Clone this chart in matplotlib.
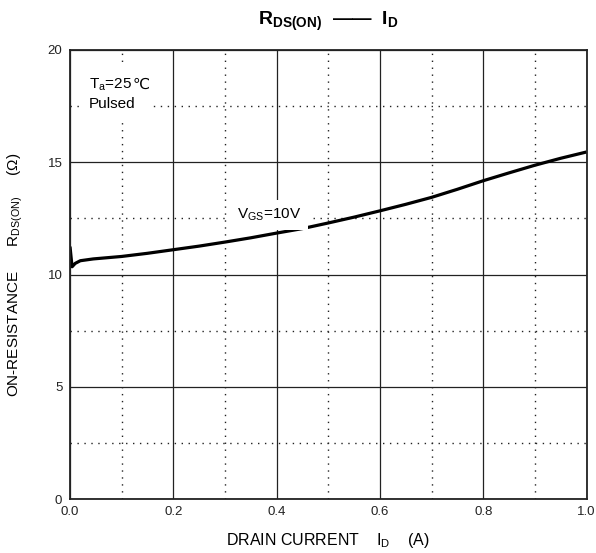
import matplotlib
matplotlib.use("Agg")
import matplotlib.pyplot as plt
from matplotlib.patches import Rectangle
from matplotlib.ticker import MultipleLocator

plt.rcParams["font.family"] = ["Liberation Sans", "DejaVu Sans"]
plt.rcParams["mathtext.fontset"] = "custom"
plt.rcParams["mathtext.rm"] = "Liberation Sans"
plt.rcParams["mathtext.bf"] = "Liberation Sans:bold"

# R_DS(ON) vs drain current, VGS = 10 V, Ta = 25 C
drain_current = [0.0, 0.004, 0.01, 0.02, 0.045, 0.1, 0.15, 0.2, 0.25, 0.3, 0.35, 0.4,
                 0.45, 0.5, 0.55, 0.6, 0.65, 0.7, 0.75, 0.8, 0.85, 0.9, 0.95, 1.0]
on_resistance = [11.25, 10.35, 10.5, 10.62, 10.70, 10.81, 10.95, 11.11, 11.27, 11.45, 11.64, 11.85,
                 12.05, 12.3, 12.56, 12.84, 13.13, 13.44, 13.8, 14.18, 14.53, 14.87, 15.18, 15.46]

x_ticks = [0.0, 0.2, 0.4, 0.6, 0.8, 1.0]
x_tick_labels = ["0.0", "0.2", "0.4", "0.6", "0.8", "1.0"]
y_ticks = [0, 5, 10, 15, 20]

fig = plt.figure(figsize=(5.96, 5.53), dpi=100)
ax = fig.add_axes([70 / 596, 1 - 499.3 / 553, 516.5 / 596, 449.3 / 553])

ax.plot(drain_current, on_resistance, color="black", lw=2.3, zorder=3, solid_capstyle="butt")

ax.set_xlim(0, 1.0)
ax.set_ylim(0, 20)
ax.set_xticks(x_ticks, x_tick_labels)
ax.set_yticks(y_ticks)
ax.xaxis.set_minor_locator(MultipleLocator(0.1))
ax.yaxis.set_minor_locator(MultipleLocator(2.5))
ax.tick_params(which="both", length=0, labelsize=9.5, colors="#222222")
ax.tick_params(axis="x", pad=4.5)
ax.tick_params(axis="y", pad=5.5)
ax.grid(which="major", color="#222222", lw=0.9, ls="-")
ax.grid(which="minor", color="#222222", lw=1.0, ls=(0, (1, 4)))
for spine in ax.spines.values():
    spine.set_linewidth(1.3)
    spine.set_color("#222222")
    spine.set_zorder(4)

ax.set_title(r"$\mathbf{R_{DS(ON)}}$  ——  $\mathbf{I_D}$", fontsize=14, fontweight="bold", pad=18)
ax.set_xlabel(r"DRAIN CURRENT    I$_\mathregular{D}$    (A)", fontsize=11.5, labelpad=10)
ax.set_ylabel(r"ON-RESISTANCE      R$_\mathregular{DS(ON)}$     ($\Omega$)", fontsize=11, labelpad=16)

# white patch behind the condition notes, hides the grid there
ax.add_patch(Rectangle((0.019, 0.844), 0.14, 0.129, transform=ax.transAxes,
                       facecolor="white", edgecolor="none", zorder=5))
cond = ax.text(0.037, 18.29, r"T$_\mathregular{a}$=25", fontsize=11, ha="left", va="baseline", zorder=6)
ax.annotate("℃", xy=(1, 18.29), xycoords=(cond, "data"), fontsize=11, ha="left", va="baseline",
            zorder=6)
ax.text(0.037, 17.41, "Pulsed", fontsize=11, ha="left", va="baseline", zorder=6)

ax.text(0.323, 12.65, r"V$_\mathregular{GS}$=10V", fontsize=11, ha="left", va="center",
        bbox=dict(boxstyle="square,pad=0.45", facecolor="white", edgecolor="none"), zorder=5)

fig.savefig("out.png", dpi=100)
